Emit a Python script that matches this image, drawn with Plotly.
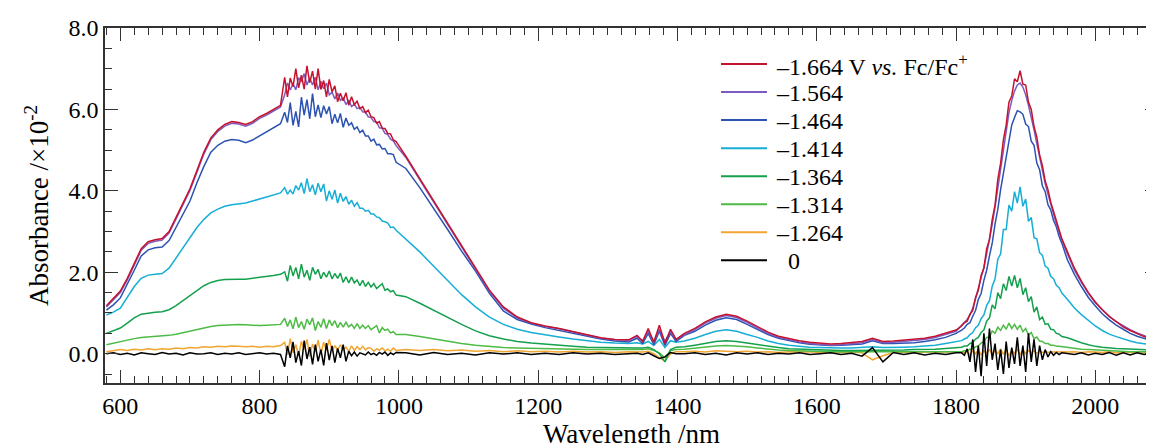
import plotly.graph_objects as go

# ---------------- data ----------------
wavelength = [
    580, 590, 600, 610, 620, 630, 640, 650, 660, 670, 680, 690, 700, 710, 720, 730, 740, 750, 760, 770, 780, 790, 800, 810, 820, 830,
    836, 840, 844, 848, 852, 856, 860, 864, 868, 872, 876, 880, 884, 888, 892, 896, 900, 904, 908, 912, 916, 920, 924, 928, 932, 936, 940, 944, 948, 952, 956, 960, 964, 968, 972, 976, 980, 984, 988, 992, 996,
    1010, 1030, 1050, 1070, 1090, 1110, 1130, 1150, 1170, 1190, 1210, 1230, 1250, 1270, 1290, 1310, 1330,
    1342, 1350, 1358, 1366, 1374, 1382, 1390, 1398,
    1410, 1425, 1440, 1455, 1470, 1485, 1500, 1515, 1530, 1545, 1560, 1575, 1590, 1605, 1620, 1635, 1650, 1665, 1680, 1695, 1710, 1725, 1740, 1755, 1770, 1785, 1800,
    1808, 1812, 1816, 1820, 1824, 1828, 1832, 1836, 1840, 1844, 1848, 1852, 1856, 1860, 1864, 1868, 1872, 1876, 1880, 1884, 1888, 1892, 1896, 1900, 1904, 1908, 1912, 1916, 1920, 1924, 1928, 1932, 1936, 1940, 1944, 1948, 1952,
    1960, 1970, 1980, 1990, 2000, 2010, 2020, 2030, 2040, 2050, 2060, 2070, 2080, 2090,
]

abs_m1664 = [
    1.18, 1.35, 1.54, 1.85, 2.2, 2.58, 2.75, 2.8, 2.83, 3.0, 3.35, 3.7, 4.05, 4.5, 4.95, 5.3, 5.5, 5.63, 5.7, 5.68, 5.63, 5.7, 5.82, 5.9, 6.0, 6.1,
    6.79, 6.31, 6.77, 6.56, 7.0, 6.53, 6.84, 6.5, 7.07, 6.66, 6.94, 6.5, 7.0, 6.49, 6.71, 6.31, 6.74, 6.43, 6.58, 6.19, 6.4, 6.21, 6.41, 6.1, 6.31, 6.12, 6.2, 6.02, 6.07, 5.92, 5.98, 5.82, 5.8, 5.66, 5.7, 5.54, 5.53, 5.41, 5.4, 5.25, 5.21,
    4.85, 4.3, 3.75, 3.2, 2.64, 2.1, 1.56, 1.15, 0.9, 0.76, 0.68, 0.62, 0.54, 0.46, 0.39, 0.35, 0.34,
    0.45, 0.3, 0.62, 0.28, 0.7, 0.25, 0.6, 0.35,
    0.5, 0.62, 0.78, 0.9, 0.97, 0.92, 0.8, 0.66, 0.53, 0.43, 0.37, 0.32, 0.28, 0.26, 0.24, 0.25, 0.27, 0.3, 0.38, 0.3, 0.31, 0.33, 0.35, 0.38, 0.43, 0.5, 0.58,
    0.68, 0.76, 0.8, 0.97, 1.06, 1.38, 1.56, 1.92, 2.1, 2.58, 2.8, 3.3, 3.65, 4.28, 4.68, 5.25, 5.62, 6.18, 6.33, 6.75, 6.68, 6.95, 6.62, 6.6, 6.18, 6.0, 5.58, 5.32, 4.88, 4.62, 4.24, 4.03, 3.72, 3.5, 3.23, 3.05, 2.82,
    2.5, 2.1, 1.78, 1.5, 1.27, 1.08, 0.92, 0.78, 0.66, 0.57, 0.49, 0.42, 0.37, 0.32,
]

abs_m1564 = [
    1.15, 1.32, 1.5, 1.81, 2.16, 2.54, 2.71, 2.76, 2.79, 2.96, 3.31, 3.66, 4.01, 4.46, 4.91, 5.26, 5.46, 5.59, 5.66, 5.64, 5.59, 5.66, 5.78, 5.86, 5.96, 6.06,
    6.36, 6.65, 6.48, 6.63, 6.48, 6.78, 6.68, 6.88, 6.6, 6.77, 6.6, 6.79, 6.48, 6.69, 6.51, 6.65, 6.36, 6.42, 6.26, 6.4, 6.22, 6.28, 6.12, 6.23, 6.07, 6.13, 6.02, 6.05, 5.94, 5.93, 5.82, 5.8, 5.7, 5.69, 5.55, 5.54, 5.41, 5.38, 5.27, 5.23, 5.11,
    4.82, 4.27, 3.72, 3.17, 2.61, 2.07, 1.53, 1.12, 0.88, 0.75, 0.67, 0.61, 0.53, 0.45, 0.38, 0.34, 0.33,
    0.42, 0.32, 0.55, 0.3, 0.6, 0.3, 0.55, 0.35,
    0.47, 0.59, 0.75, 0.87, 0.94, 0.89, 0.77, 0.63, 0.5, 0.4, 0.34, 0.29, 0.25, 0.23, 0.21, 0.22, 0.24, 0.27, 0.35, 0.27, 0.28, 0.3, 0.32, 0.35, 0.4, 0.47, 0.55,
    0.7, 0.76, 0.84, 0.95, 1.12, 1.35, 1.6, 1.85, 2.12, 2.45, 2.8, 3.18, 3.6, 4.08, 4.58, 5.05, 5.5, 5.92, 6.22, 6.45, 6.6, 6.65, 6.55, 6.36, 6.1, 5.82, 5.5, 5.16, 4.82, 4.48, 4.18, 3.92, 3.66, 3.42, 3.19, 2.98, 2.78,
    2.45, 2.06, 1.75, 1.48, 1.25, 1.07, 0.91, 0.79, 0.68, 0.59, 0.51, 0.44, 0.38, 0.33,
]

abs_m1464 = [
    1.07, 1.2, 1.37, 1.7, 2.05, 2.4, 2.55, 2.6, 2.62, 2.78, 3.1, 3.45, 3.75, 4.2, 4.6, 4.95, 5.12, 5.22, 5.26, 5.24, 5.18, 5.25, 5.35, 5.45, 5.55, 5.65,
    5.93, 5.68, 6.17, 5.61, 5.95, 5.57, 6.3, 5.86, 6.24, 5.77, 6.39, 5.82, 6.11, 5.8, 6.09, 5.89, 6.07, 5.65, 5.88, 5.67, 5.9, 5.56, 5.79, 5.61, 5.67, 5.51, 5.57, 5.43, 5.49, 5.35, 5.35, 5.22, 5.27, 5.13, 5.14, 5.03, 5.04, 4.91, 4.91, 4.89, 4.7,
    4.55, 4.08, 3.58, 3.05, 2.52, 2.03, 1.48, 1.05, 0.84, 0.73, 0.64, 0.57, 0.5, 0.42, 0.36, 0.31, 0.29,
    0.38, 0.25, 0.5, 0.22, 0.55, 0.2, 0.5, 0.3,
    0.45, 0.55, 0.7, 0.82, 0.88, 0.84, 0.72, 0.6, 0.47, 0.38, 0.32, 0.27, 0.23, 0.21, 0.2, 0.21, 0.22, 0.24, 0.32, 0.25, 0.25, 0.26, 0.27, 0.3, 0.34, 0.4, 0.5,
    0.58, 0.63, 0.72, 0.76, 0.92, 1.06, 1.33, 1.48, 1.8, 2.05, 2.4, 2.72, 3.18, 3.55, 4.03, 4.42, 4.9, 5.26, 5.62, 5.8, 5.97, 5.94, 5.88, 5.64, 5.58, 5.22, 5.12, 4.68, 4.52, 4.12, 3.98, 3.66, 3.53, 3.27, 3.12, 2.88, 2.71,
    2.3, 1.95, 1.65, 1.38, 1.17, 0.98, 0.83, 0.7, 0.6, 0.5, 0.43, 0.37, 0.32, 0.28,
]

abs_m1414 = [
    0.95, 1.02, 1.12, 1.4, 1.65, 1.85, 1.93, 1.95, 1.97, 2.1, 2.35, 2.6, 2.85, 3.1, 3.3, 3.46, 3.55, 3.62, 3.66, 3.68, 3.7, 3.75, 3.8, 3.85, 3.9, 3.95,
    4.08, 3.92, 4.02, 3.92, 4.13, 4.02, 4.2, 3.93, 4.3, 3.98, 4.15, 3.9, 4.19, 3.98, 4.17, 3.75, 4.0, 3.79, 4.02, 3.7, 3.94, 3.74, 3.86, 3.67, 3.77, 3.62, 3.71, 3.57, 3.57, 3.5, 3.52, 3.43, 3.43, 3.36, 3.34, 3.26, 3.24, 3.21, 3.1, 3.11, 3.03,
    2.82, 2.5, 2.15, 1.8, 1.45, 1.15, 0.9, 0.72, 0.6, 0.52, 0.46, 0.41, 0.36, 0.32, 0.28, 0.26, 0.25,
    0.27, 0.24, 0.3, 0.2, 0.35, 0.15, 0.32, 0.28,
    0.31, 0.38, 0.47, 0.55, 0.59, 0.55, 0.47, 0.4, 0.31, 0.25, 0.21, 0.18, 0.16, 0.15, 0.14, 0.14, 0.14, 0.15, 0.17, 0.15, 0.15, 0.16, 0.17, 0.19, 0.21, 0.25, 0.29,
    0.32, 0.36, 0.39, 0.47, 0.52, 0.64, 0.7, 0.86, 0.95, 1.19, 1.3, 1.66, 1.84, 2.32, 2.45, 3.05, 3.05, 3.65, 3.5, 3.98, 3.7, 4.1, 3.62, 3.8, 3.25, 3.35, 2.85, 2.82, 2.48, 2.42, 2.15, 2.1, 1.9, 1.84, 1.68, 1.62, 1.49,
    1.33, 1.12, 0.96, 0.82, 0.68, 0.57, 0.48, 0.42, 0.36, 0.31, 0.27, 0.24, 0.22, 0.2,
]

abs_m1364 = [
    0.5, 0.56, 0.63, 0.75, 0.88, 0.97, 1.0, 1.02, 1.03, 1.08, 1.18, 1.3, 1.42, 1.55, 1.67, 1.75, 1.8, 1.82, 1.83, 1.83, 1.83, 1.85, 1.88, 1.9, 1.92, 1.95,
    2.01, 1.78, 2.17, 1.91, 2.12, 1.84, 2.2, 1.88, 2.05, 1.8, 2.12, 1.95, 2.07, 1.84, 2.0, 1.88, 2.03, 1.84, 1.97, 1.85, 1.98, 1.75, 1.89, 1.74, 1.88, 1.74, 1.81, 1.67, 1.8, 1.65, 1.75, 1.64, 1.72, 1.6, 1.65, 1.72, 1.56, 1.59, 1.52, 1.55, 1.44,
    1.4, 1.24, 1.06, 0.88, 0.72, 0.56, 0.44, 0.36, 0.3, 0.26, 0.23, 0.2, 0.18, 0.16, 0.15, 0.14, 0.14,
    0.14, 0.14, 0.16, 0.1, 0.0, -0.2, 0.1, 0.16,
    0.17, 0.21, 0.26, 0.3, 0.32, 0.3, 0.26, 0.22, 0.18, 0.15, 0.12, 0.11, 0.1, 0.09, 0.09, 0.08, 0.08, 0.08, 0.09, 0.08, 0.08, 0.09, 0.1, 0.1, 0.11, 0.13, 0.15,
    0.16, 0.19, 0.19, 0.25, 0.27, 0.36, 0.4, 0.52, 0.58, 0.8, 0.88, 1.2, 1.1, 1.5, 1.35, 1.72, 1.55, 1.9, 1.66, 1.92, 1.62, 1.85, 1.45, 1.62, 1.28, 1.4, 1.02, 1.15, 0.84, 0.9, 0.72, 0.74, 0.6, 0.59, 0.5, 0.48, 0.42,
    0.39, 0.32, 0.27, 0.22, 0.18, 0.16, 0.14, 0.13, 0.12, 0.11, 0.1, 0.09, 0.08, 0.08,
]

abs_m1314 = [
    0.22, 0.26, 0.3, 0.34, 0.37, 0.4, 0.41, 0.42, 0.43, 0.45, 0.48, 0.52, 0.56, 0.6, 0.64, 0.67, 0.69, 0.7, 0.72, 0.72, 0.71, 0.7, 0.69, 0.7, 0.71, 0.72,
    0.87, 0.67, 0.83, 0.61, 0.9, 0.64, 0.79, 0.6, 0.85, 0.71, 0.88, 0.57, 0.79, 0.65, 0.86, 0.62, 0.83, 0.69, 0.81, 0.64, 0.77, 0.65, 0.77, 0.66, 0.72, 0.62, 0.74, 0.62, 0.7, 0.62, 0.69, 0.59, 0.64, 0.69, 0.51, 0.64, 0.57, 0.6, 0.51, 0.54, 0.47,
    0.47, 0.42, 0.36, 0.3, 0.25, 0.21, 0.18, 0.15, 0.14, 0.13, 0.12, 0.11, 0.11, 0.1, 0.1, 0.1, 0.1,
    0.1, 0.1, 0.12, 0.08, 0.02, -0.1, 0.08, 0.1,
    0.11, 0.14, 0.17, 0.19, 0.2, 0.19, 0.17, 0.14, 0.11, 0.09, 0.08, 0.07, 0.06, 0.06, 0.05, 0.05, 0.05, 0.05, 0.06, 0.05, 0.05, 0.05, 0.05, 0.05, 0.05, 0.06, 0.06,
    0.05, 0.07, 0.07, 0.11, 0.12, 0.17, 0.19, 0.26, 0.3, 0.4, 0.41, 0.56, 0.5, 0.65, 0.57, 0.7, 0.6, 0.75, 0.62, 0.72, 0.6, 0.7, 0.54, 0.62, 0.46, 0.52, 0.37, 0.41, 0.31, 0.3, 0.25, 0.25, 0.21, 0.21, 0.18, 0.18, 0.17,
    0.15, 0.13, 0.11, 0.1, 0.09, 0.08, 0.07, 0.06, 0.06, 0.05, 0.05, 0.05, 0.04, 0.04,
]

abs_m1264 = [
    0.05, 0.08, 0.1, 0.08, 0.11, 0.09, 0.12, 0.1, 0.12, 0.11, 0.14, 0.12, 0.15, 0.14, 0.17, 0.16, 0.18, 0.17, 0.19, 0.18, 0.17, 0.18, 0.16, 0.18, 0.17, 0.2,
    0.28, -0.03, 0.37, 0.02, 0.22, -0.05, 0.3, 0.11, 0.35, -0.07, 0.24, 0.04, 0.33, 0.0, 0.28, 0.08, 0.35, 0.07, 0.2, 0.09, 0.22, 0.09, 0.16, 0.06, 0.19, 0.08, 0.17, 0.1, 0.18, 0.09, 0.15, 0.13, 0.06, 0.12, 0.09, 0.14, 0.07, 0.11, 0.06, 0.14, 0.08,
    0.1, 0.08, 0.1, 0.07, 0.09, 0.06, 0.08, 0.05, 0.07, 0.05, 0.06, 0.04, 0.06, 0.04, 0.05, 0.03, 0.05,
    0.05, 0.04, 0.06, 0.0, -0.1, -0.18, 0.0, 0.05,
    0.05, 0.06, 0.04, 0.07, 0.06, 0.05, 0.06, 0.04, 0.05, 0.03, 0.05, 0.04, 0.05, 0.03, 0.04, 0.03, 0.04, 0.02, -0.15, -0.05, 0.03, 0.04, 0.03, 0.04, 0.05, 0.04, 0.05,
    0.05, 0.02, 0.07, -0.04, 0.08, 0.0, 0.1, -0.03, 0.07, 0.01, 0.11, -0.04, 0.09, 0.0, 0.12, -0.02, 0.1, -0.05, 0.08, 0.01, 0.11, -0.03, 0.09, 0.0, 0.08, 0.02, 0.07, 0.01, 0.06, 0.03, 0.05, 0.03, 0.05, 0.04, 0.05, 0.04, 0.05,
    0.04, 0.05, 0.03, 0.05, 0.04, 0.03, 0.05, 0.02, 0.04, 0.03, 0.04, 0.02, 0.03, 0.03,
]

abs_0 = [
    0.0, 0.02, -0.02, 0.01, -0.03, 0.02, 0.0, -0.02, 0.03, -0.01, 0.01, -0.03, 0.02, -0.01, 0.0, 0.02, -0.02, 0.01, -0.01, 0.02, -0.02, 0.0, 0.02, -0.01, 0.01, -0.02,
    -0.32, 0.19, -0.1, 0.29, -0.22, 0.06, -0.29, 0.32, -0.13, 0.16, -0.26, 0.22, -0.19, 0.1, -0.29, 0.26, -0.16, 0.19, -0.22, 0.13, -0.1, 0.22, -0.19, 0.06, -0.05, 0.04, -0.06, 0.02, -0.01, -0.03, 0.04, -0.02, 0.01, -0.04, 0.03, -0.01, 0.04, -0.04, 0.02, -0.02, 0.03,
    0.02, -0.03, 0.03, -0.02, 0.01, -0.03, 0.02, -0.01, 0.02, -0.02, 0.01, -0.02, 0.02, -0.01, 0.01, -0.02, 0.01,
    0.01, -0.02, 0.02, -0.05, -0.12, -0.08, 0.03, 0.0,
    0.0, 0.02, -0.02, 0.01, -0.03, 0.02, -0.01, 0.02, -0.02, 0.01, -0.01, 0.02, -0.02, 0.0, 0.02, -0.02, 0.01, -0.06, 0.15, -0.2, 0.03, -0.02, 0.02, -0.03, 0.01, -0.02, 0.02,
    0.02, -0.04, 0.12, -0.2, 0.35, -0.45, 0.2, -0.55, 0.5, -0.3, 0.62, -0.15, 0.25, -0.4, 0.1, -0.5, 0.3, -0.35, 0.15, -0.25, 0.4, -0.3, 0.2, -0.45, 0.5, -0.2, 0.35, -0.3, 0.2, -0.15, 0.1, -0.08, 0.05, -0.04, 0.03, -0.02, 0.02,
    0.01, -0.02, 0.02, -0.03, 0.01, -0.02, 0.03, -0.04, 0.02, -0.03, 0.02, -0.02, 0.01, -0.01,
]

legend_labels = [
    "\u20131.664 V <i>vs.</i> Fc/Fc<sup>+</sup>",
    "\u20131.564",
    "\u20131.464",
    "\u20131.414",
    "\u20131.364",
    "\u20131.314",
    "\u20131.264",
    "\u00a0\u00a00",
]
series = [abs_m1664, abs_m1564, abs_m1464, abs_m1414, abs_m1364, abs_m1314, abs_m1264, abs_0]
colors = ["#c4122f", "#7d5bbf", "#2c52b2", "#16aed6", "#14a04c", "#4dbb45", "#f2a530", "#000000"]

x_major = [600, 800, 1000, 1200, 1400, 1600, 1800, 2000]
x_mid = [700, 900, 1100, 1300, 1500, 1700, 1900]
y_major = [0, 2, 4, 6, 8]
y_mid = [1, 3, 5, 7]

for s in series:
    assert len(s) == len(wavelength), len(s)

# ---------------- figure ----------------
W, H = 1154, 443
ML, MR, MT, MB = 97, 4, 20, 68
FONT = "Liberation Serif"
AX = "#333333"
X_RANGE = [578, 2090]
Y_RANGE = [-0.72, 8.0]

fig = go.Figure()
draw_order = [6, 5, 4, 3, 2, 1, 0, 7]
for i in draw_order:
    fig.add_trace(go.Scatter(
        x=wavelength, y=series[i], mode="lines",
        line=dict(color=colors[i], width=1.5),
        name=legend_labels[i], showlegend=False,
    ))

pw, ph = W - ML - MR, H - MT - MB


def px_x(p):
    return (p - ML) / pw


def px_y(p):
    return (H - MB - p) / ph


shapes, annots = [], []
for i, lab in enumerate(legend_labels):
    yc = 56 + 28.05 * i
    shapes.append(dict(type="line", xref="paper", yref="paper",
                       x0=px_x(713), x1=px_x(759), y0=px_y(yc), y1=px_y(yc),
                       line=dict(color=colors[i], width=2)))
    annots.append(dict(xref="paper", yref="paper", x=px_x(766), y=px_y(yc + 1),
                       xanchor="left", yanchor="middle", showarrow=False, text=lab,
                       font=dict(family=FONT, size=24, color="black")))

tick_font = dict(family=FONT, size=24, color="black")
title_font = dict(family=FONT, size=27, color="black")

fig.update_layout(
    font=dict(family=FONT, size=24, color="black"),
    width=W, height=H, margin=dict(l=ML, r=MR, t=MT, b=MB, autoexpand=False),
    paper_bgcolor="white", plot_bgcolor="white", showlegend=False,
    shapes=shapes, annotations=annots,
    xaxis=dict(range=X_RANGE, tickmode="array", tickvals=x_major,
               showline=True, linewidth=1.6, linecolor=AX, mirror="ticks",
               ticks="inside", ticklen=13, tickwidth=1.4, tickcolor=AX,
               showgrid=False, zeroline=False, tickfont=tick_font,
               minor=dict(tickmode="linear", tick0=0, dtick=20, ticklen=7, ticks="inside",
                          tickcolor=AX, tickwidth=1.2),
               title=dict(text="Wavelength /nm", font=title_font, standoff=4)),
    xaxis2=dict(range=X_RANGE, overlaying="x", anchor="y", side="bottom",
                tickmode="array", tickvals=x_mid, showticklabels=False,
                ticks="inside", ticklen=10, tickwidth=1.3, tickcolor=AX,
                mirror="ticks", showline=False, showgrid=False, zeroline=False),
    yaxis=dict(range=Y_RANGE, tickmode="array", tickvals=y_major, tickformat=".1f",
               showline=True, linewidth=1.6, linecolor=AX, mirror="ticks",
               ticks="inside", ticklen=13, tickwidth=1.4, tickcolor=AX,
               showgrid=False, zeroline=False, tickfont=tick_font,
               minor=dict(tickmode="linear", tick0=0, dtick=0.5, ticklen=7, ticks="inside",
                          tickcolor=AX, tickwidth=1.2),
               title=dict(text="Absorbance /\u00d710<sup>-2</sup>", font=title_font, standoff=12)),
    yaxis2=dict(range=Y_RANGE, overlaying="y", anchor="x", side="left",
                tickmode="array", tickvals=y_mid, showticklabels=False,
                ticks="inside", ticklen=10, tickwidth=1.3, tickcolor=AX,
                mirror="ticks", showline=False, showgrid=False, zeroline=False),
)

fig.write_html("out.html")
